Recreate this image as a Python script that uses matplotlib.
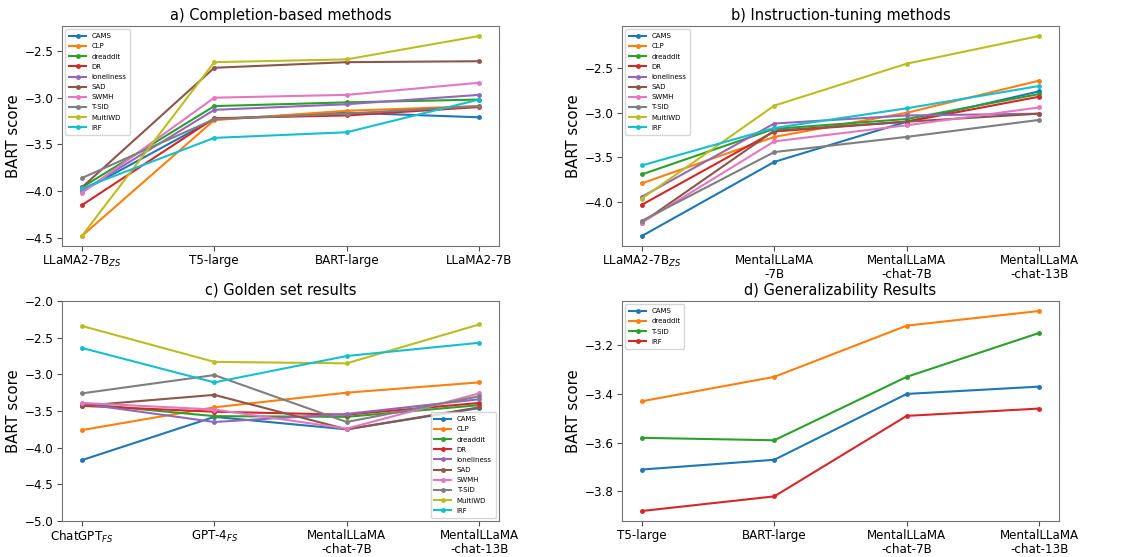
import matplotlib
matplotlib.use('Agg')
import matplotlib.pyplot as plt

datasets_all = ['CAMS', 'CLP', 'dreaddit', 'DR', 'loneliness', 'SAD',
                'SWMH', 'T-SID', 'MultiWD', 'IRF']

# a) completion-based
models_a = ['LLaMA2-7B$_{ZS}$', 'T5-large', 'BART-large', 'LLaMA2-7B']
scores_a = {
    'CAMS':       [-4.00, -3.23, -3.16, -3.21],
    'CLP':        [-4.48, -3.24, -3.14, -3.09],
    'dreaddit':   [-3.96, -3.09, -3.05, -3.02],
    'DR':         [-4.15, -3.22, -3.19, -3.10],
    'loneliness': [-4.00, -3.13, -3.07, -2.97],
    'SAD':        [-3.96, -2.68, -2.62, -2.61],
    'SWMH':       [-4.02, -3.00, -2.97, -2.84],
    'T-SID':      [-3.86, -3.23, -3.17, -3.09],
    'MultiWD':    [-4.48, -2.62, -2.59, -2.34],
    'IRF':        [-3.97, -3.43, -3.37, -3.02],
}

# b) instruction-tuning
models_b = ['LLaMA2-7B$_{ZS}$', 'MentalLLaMA\n-7B', 'MentalLLaMA\n-chat-7B',
            'MentalLLaMA\n-chat-13B']
scores_b = {
    'CAMS':       [-4.38, -3.55, -3.10, -2.76],
    'CLP':        [-3.79, -3.27, -3.00, -2.64],
    'dreaddit':   [-3.69, -3.18, -3.07, -2.79],
    'DR':         [-4.03, -3.21, -3.10, -2.82],
    'loneliness': [-3.94, -3.12, -3.03, -3.01],
    'SAD':        [-4.23, -3.20, -3.10, -3.01],
    'SWMH':       [-4.23, -3.32, -3.14, -2.94],
    'T-SID':      [-4.21, -3.44, -3.27, -3.08],
    'MultiWD':    [-3.96, -2.92, -2.45, -2.14],
    'IRF':        [-3.59, -3.17, -2.95, -2.70],
}

# c) golden set
models_c = ['ChatGPT$_{FS}$', 'GPT-4$_{FS}$', 'MentalLLaMA\n-chat-7B',
            'MentalLLaMA\n-chat-13B']
scores_c = {
    'CAMS':       [-4.17, -3.58, -3.75, -3.46],
    'CLP':        [-3.76, -3.45, -3.25, -3.11],
    'dreaddit':   [-3.40, -3.57, -3.58, -3.42],
    'DR':         [-3.43, -3.51, -3.55, -3.39],
    'loneliness': [-3.40, -3.65, -3.54, -3.34],
    'SAD':        [-3.43, -3.28, -3.75, -3.45],
    'SWMH':       [-3.39, -3.48, -3.74, -3.26],
    'T-SID':      [-3.26, -3.01, -3.65, -3.30],
    'MultiWD':    [-2.34, -2.83, -2.85, -2.32],
    'IRF':        [-2.64, -3.11, -2.75, -2.57],
}

# d) generalizability
models_d = ['T5-large', 'BART-large', 'MentalLLaMA\n-chat-7B',
            'MentalLLaMA\n-chat-13B']
scores_d = {
    'CAMS':     [-3.71, -3.67, -3.40, -3.37],
    'dreaddit': [-3.43, -3.33, -3.12, -3.06],
    'T-SID':    [-3.58, -3.59, -3.33, -3.15],
    'IRF':      [-3.88, -3.82, -3.49, -3.46],
}


def draw_panel(ax, models, scores, title, legend_loc):
    x = range(len(models))
    for name, vals in scores.items():
        ax.plot(x, vals, marker='o', markersize=2.5, linewidth=1.5, label=name)
    ax.set_xticks(list(x))
    ax.set_xticklabels(models, fontsize=8.6, linespacing=1.05)
    ax.tick_params(axis='y', labelsize=8.6)
    ax.tick_params(color='0.3', pad=2.5)
    ax.set_ylabel('BART score', fontsize=10.7, labelpad=3)
    ax.set_title(title, fontsize=10.5, pad=4.5)
    for sp in ax.spines.values():
        sp.set_color('0.45')
    ax.legend(loc=legend_loc, fontsize=5.0, handlelength=2.4,
              labelspacing=0.6, borderpad=0.55)


fig = plt.figure(figsize=(11.23, 5.57), dpi=100)
W, H = 1123.0, 557.0
ax_a = fig.add_axes([62 / W, 1 - 246 / H, 437 / W, 220 / H])
ax_b = fig.add_axes([622 / W, 1 - 246 / H, 437 / W, 220 / H])
ax_c = fig.add_axes([62 / W, 1 - 521 / H, 437 / W, 220 / H])
ax_d = fig.add_axes([622 / W, 1 - 521 / H, 437 / W, 220 / H])

draw_panel(ax_a, models_a, scores_a, 'a) Completion-based methods', 'upper left')
draw_panel(ax_b, models_b, scores_b, 'b) Instruction-tuning methods', 'upper left')
draw_panel(ax_c, models_c, scores_c, 'c) Golden set results', 'lower right')
draw_panel(ax_d, models_d, scores_d, 'd) Generalizability Results', 'upper left')
ax_c.set_ylim(-5.0, -2.0)

fig.savefig('out.png', dpi=100)
